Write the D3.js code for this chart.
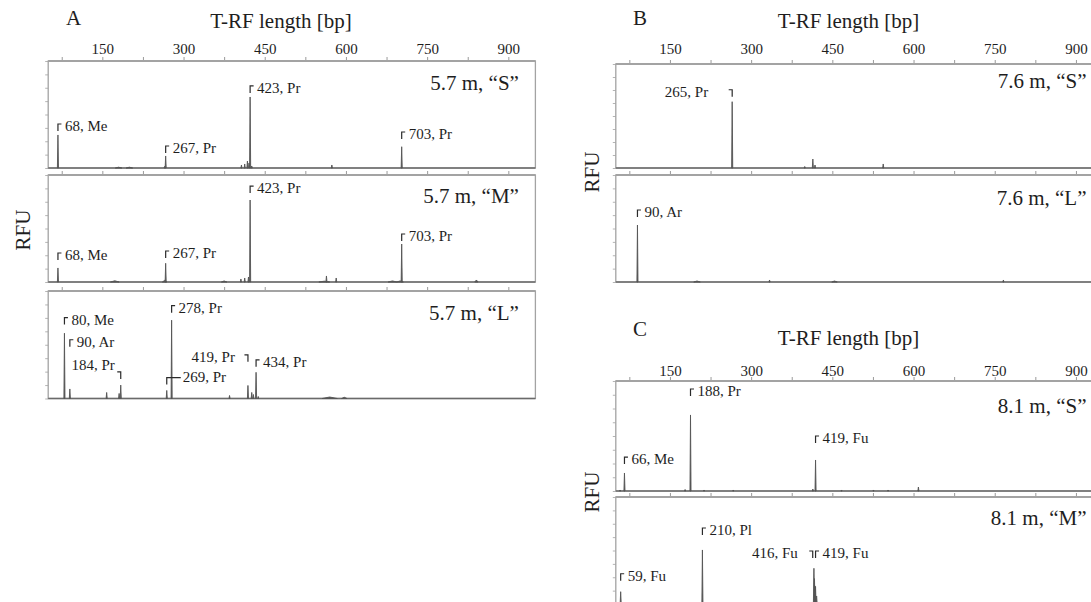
<!DOCTYPE html>
<html>
<head>
<meta charset="utf-8">
<script src="https://cdn.jsdelivr.net/npm/d3@7"></script>
<style>
  body { margin: 0; background: #fff; }
  svg text { font-family: "Liberation Serif", "Times New Roman", serif; fill: #1e1e1e; }
</style>
</head>
<body>
<svg id="chart" width="1091" height="602"></svg>
<script>
// ---- T-RF length axis ----
const lengthDomain = [50, 950];
const lengthTicks = d3.range(75, 901, 75);
const lengthTickLabels = [150, 300, 450, 600, 750, 900];
const rfuDomain = [0, 8000];
const rfuTicks = d3.range(0, 8001, 1000);

// ---- Peaks: [T-RF length (bp), height (RFU), half-width (bp, optional)] ----
const peaks57S = [[68, 2470], [180, 60, 6], [200, 60, 6], [265, 120], [267, 900], [407, 225], [413, 300],
  [418, 520], [421, 375], [423, 5310], [426, 150], [574, 225], [703, 1590]];
const peaks57M = [[68, 1050], [173, 90, 8], [265, 120, 4], [267, 1400], [375, 80, 5], [406, 225], [413, 300],
  [420, 375], [423, 6130], [560, 60, 10], [564, 450], [582, 300], [686, 80, 8], [700, 80, 6], [703, 2840], [841, 150, 3]];
const peaks57L = [[80, 4860], [90, 710], [158, 450], [181, 375], [184, 1000], [269, 600], [278, 5830], [385, 225],
  [419, 970], [426, 450], [429, 300], [434, 1950], [438, 150], [570, 110, 14], [597, 90, 5]];
const peaks76S = [[265, 5100], [399, 115], [414, 690], [418, 230], [544, 310]];
const peaks76L = [[90, 4260], [200, 75, 6], [334, 150], [454, 75, 5], [766, 150]];
const peaks81S = [[58, 73], [66, 1310], [178, 110], [188, 5530], [213, 73], [267, 73], [414, 145], [419, 2255],
  [467, 73], [526, 73], [553, 73], [609, 290]];
const peaks81M = [[59, 920], [210, 4040], [416, 2670], [417, 1900], [418, 1350], [419, 1300], [421, 600]];

// ---- Identified T-RFs: [length (bp), label, label level (RFU), side of bracket text] ----
const labels57S = [[68, "68, Me", 2766, "r"], [267, "267, Pr", 1120, "r"], [423, "423, Pr", 5610, "r"], [703, "703, Pr", 2170, "r"]];
const labels57M = [[68, "68, Me", 1645, "r"], [267, "267, Pr", 1795, "r"], [423, "423, Pr", 6650, "r"], [703, "703, Pr", 3065, "r"]];
const labels57L = [[80, "80, Me", 5500, "r"], [90, "90, Ar", 3850, "r"], [184, "184, Pr", 2130, "l"], [269, "269, Pr", 1260, "r"],
  [278, "278, Pr", 6390, "r"], [419, "419, Pr", 2730, "l"], [434, "434, Pr", 2355, "r"]];
const labels76S = [[265, "265, Pr", 5480, "l"]];
const labels76L = [[90, "90, Ar", 4860, "r"]];
const labels81S = [[66, "66, Me", 1960, "r"], [188, "188, Pr", 6910, "r"], [419, "419, Fu", 3490, "r"]];
const labels81M = [[59, "59, Fu", 1740, "r"], [210, "210, Pl", 5160, "r"], [416, "416, Fu", 3440, "l"], [419, "419, Fu", 3440, "r"]];

// ---- Profiles ----
const sampleNames = ["5.7 m, \u201CS\u201D", "5.7 m, \u201CM\u201D", "5.7 m, \u201CL\u201D", "7.6 m, \u201CS\u201D",
  "7.6 m, \u201CL\u201D", "8.1 m, \u201CS\u201D", "8.1 m, \u201CM\u201D"];
const sampleGroups = ["A", "A", "A", "B", "B", "C", "C"];
const samplePeaks = [peaks57S, peaks57M, peaks57L, peaks76S, peaks76L, peaks81S, peaks81M];
const sampleLabels = [labels57S, labels57M, labels57L, labels76S, labels76L, labels81S, labels81M];

// ---- Layout ----
const groupLayout = {
  A: { x0: 48.2, x1: 535.4, letterX: 66, letterY: 25, titleY: 28, tickY: 54, rfuX: 22.6, rfuY: 230 },
  B: { x0: 615.8, x1: 1103, letterX: 633, letterY: 25, titleY: 28, tickY: 54, rfuX: 591.7, rfuY: 172 },
  C: { x0: 615.8, x1: 1103, letterX: 633, letterY: 336, titleY: 345, tickY: 376, rfuX: 591.7, rfuY: 492 }
};
// [top, bottom, name baseline offset]
const panelLayout = [[61, 168, 29], [175, 282, 28], [291, 398.5, 29], [64, 168, 24], [175, 282, 30], [381, 491, 32], [497, 604, 28]];
// bracket tweaks for individual labels: gap to text, stub length, rise, drop, horizontal nudge
const bracketStyle = {
  "269, Pr": { gap: 16, stub: 14, rise: 4 },
  "184, Pr": { gap: 6, drop: 9 },
  "265, Pr": { gap: 24 },
  "419, Pr": { gap: 13 },
  "416, Fu": { gap: 15, dx: -1.2 }
};

const svg = d3.select("#chart");
const traceColor = "#555";
const frameColor = "#a3a3a3";

const xScales = {};
Object.entries(groupLayout).forEach(([g, L]) => {
  const x = d3.scaleLinear().domain(lengthDomain).range([L.x0, L.x1]);
  xScales[g] = x;

  svg.append("text").attr("x", L.letterX).attr("y", L.letterY)
    .attr("font-size", 21).text(g);
  svg.append("text").attr("x", x(480)).attr("y", L.titleY)
    .attr("text-anchor", "middle").attr("font-size", 21).text("T-RF length [bp]");

  const labelAxis = svg.append("g").attr("transform", `translate(0,${L.tickY})`)
    .call(d3.axisTop(x).tickValues(lengthTickLabels).tickSize(0).tickPadding(0));
  labelAxis.select(".domain").remove();
  labelAxis.selectAll("text").attr("font-size", 15).attr("font-family", null).attr("fill", "#1e1e1e");

  svg.append("text")
    .attr("transform", `translate(${L.rfuX + 7},${L.rfuY}) rotate(-90)`)
    .attr("text-anchor", "middle").attr("font-size", 21).text("RFU");
});

sampleNames.forEach((name, i) => {
  const g = sampleGroups[i];
  const L = groupLayout[g];
  const [top, bottom, nameDy] = panelLayout[i];
  const x = xScales[g];
  const y = d3.scaleLinear().domain(rfuDomain).range([bottom, top]);
  const panel = svg.append("g");

  // top ticks every 75 bp
  const tAxis = panel.append("g").attr("transform", `translate(0,${top})`)
    .call(d3.axisTop(x).tickValues(lengthTicks).tickSize(4).tickFormat(""));
  tAxis.select(".domain").remove();
  tAxis.selectAll("line").attr("stroke", "#9a9a9a").attr("stroke-width", 1);

  // RFU ticks
  const yAxis = panel.append("g").attr("transform", `translate(${L.x0},0)`)
    .call(d3.axisLeft(y).tickValues(rfuTicks).tickSize(3).tickFormat(""));
  yAxis.select(".domain").remove();
  yAxis.selectAll("line").attr("stroke", "#b5b5b5").attr("stroke-width", 1);

  // frame
  panel.append("rect").attr("x", L.x0).attr("y", top)
    .attr("width", L.x1 - L.x0).attr("height", bottom - top)
    .attr("fill", "none").attr("stroke", frameColor).attr("stroke-width", 1.3);
  panel.append("line").attr("x1", L.x0).attr("x2", L.x1).attr("y1", top).attr("y2", top)
    .attr("stroke", frameColor).attr("stroke-width", 1.9);

  // baseline of the trace
  panel.append("line").attr("x1", x(lengthDomain[0])).attr("x2", x(lengthDomain[1]))
    .attr("y1", y(0)).attr("y2", y(0)).attr("stroke", "#6a6a6a").attr("stroke-width", 1.5);

  // peaks
  panel.selectAll("path.peak").data(samplePeaks[i]).join("path")
    .attr("class", "peak")
    .attr("d", d => {
      const w = d[2] || 1;
      return `M${x(d[0] - w)},${y(0)}L${x(d[0])},${y(d[1])}L${x(d[0] + w)},${y(0)}Z`;
    })
    .attr("fill", traceColor).attr("stroke", traceColor).attr("stroke-width", 0.9)
    .attr("stroke-linejoin", "round");

  // sample name
  panel.append("text").attr("x", L.x1 - 16.5).attr("y", top + nameDy)
    .attr("text-anchor", "end").attr("font-size", 21).text(name);

  // labelled T-RFs with brackets
  sampleLabels[i].forEach(([bp, text, level, side]) => {
    const st = bracketStyle[text] || {};
    const px = x(bp) + (st.dx || 0);
    const by = y(level);
    const drop = st.drop || 0;
    const rise = st.rise !== undefined ? st.rise : 7;
    const stub = st.stub || 3.5;
    const dir = side === "r" ? 1 : -1;
    const yTop = by - rise + drop;
    const yBot = by + drop + (st.rise !== undefined ? 3 : 0);
    panel.append("path")
      .attr("d", `M${px + dir * stub},${yTop}H${px}V${yBot}`)
      .attr("fill", "none").attr("stroke", "#2a2a2a").attr("stroke-width", 1.2);
    const gap = st.gap || 7;
    panel.append("text").attr("x", px + dir * gap).attr("y", by)
      .attr("text-anchor", side === "r" ? "start" : "end")
      .attr("font-size", 15).text(text);
  });
});
</script>
</body>
</html>
